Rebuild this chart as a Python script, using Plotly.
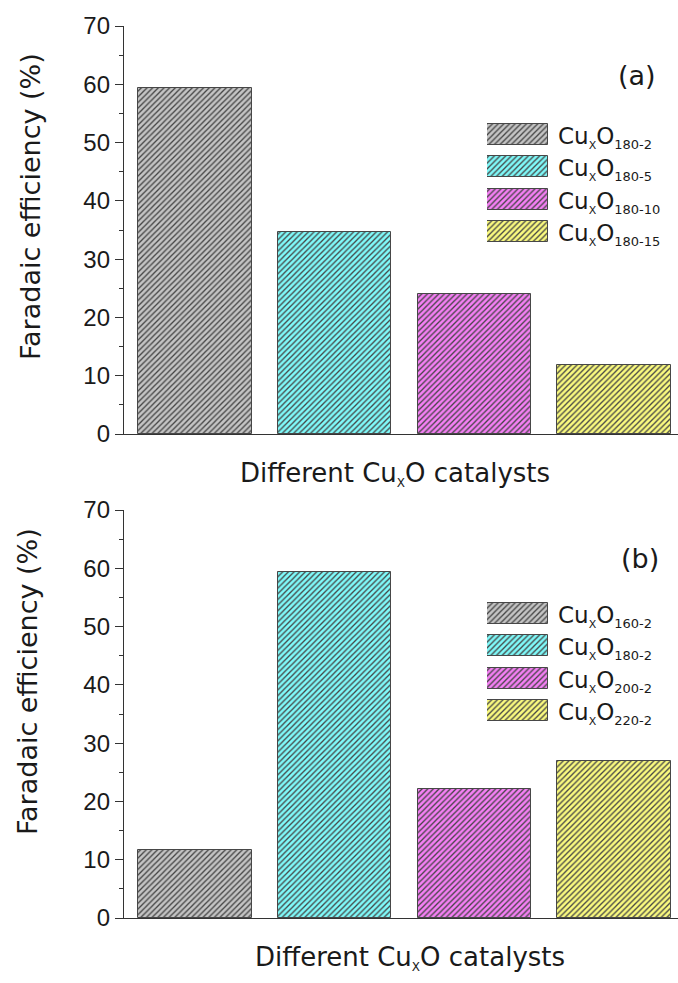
import plotly.graph_objects as go

# Faradaic efficiency (%) of the Cu_xO catalysts
codes_a = ["180-2", "180-5", "180-10", "180-15"]
fe_a = [59.4, 34.7, 24.0, 11.8]

codes_b = ["160-2", "180-2", "200-2", "220-2"]
fe_b = [11.7, 59.4, 22.1, 27.0]

bar_colors = ["#c4c4c4", "#7ffafa", "#f57ff5", "#fafa7f"]
y_ticks = [0, 10, 20, 30, 40, 50, 60, 70]

W, H = 678, 983
HATCH = "#2e2e2e"
EDGE = "#474747"
AXIS = "#333333"
TITLE_FONT = dict(family="DejaVu Sans", size=27, color="#1a1a1a")


def fx(p):
    return p / W


def fy(p):
    return 1 - p / H


def marker_style():
    return dict(
        color=bar_colors,
        line=dict(color=EDGE, width=1),
        pattern=dict(shape="/", fillmode="overlay", fgcolor=HATCH, fgopacity=1,
                     size=4, solidity=0.33),
    )


def legend_text(code):
    return ("Cu<sub><span style='font-size:11px'>X</span></sub>O"
            "<sub><span style='font-size:13px'>" + code + "</span></sub>")


fig = go.Figure()

# main bars
fig.add_trace(go.Bar(x=codes_a, y=fe_a, width=0.814, marker=marker_style(),
                     xaxis="x", yaxis="y", showlegend=False))
fig.add_trace(go.Bar(x=codes_b, y=fe_b, width=0.814, marker=marker_style(),
                     xaxis="x2", yaxis="y2", showlegend=False))

# legend swatches (one row per catalyst)
fig.add_trace(go.Bar(x=[1] * len(codes_a), y=codes_a, orientation="h", width=0.65,
                     marker=marker_style(), xaxis="x3", yaxis="y3", showlegend=False))
fig.add_trace(go.Bar(x=[1] * len(codes_b), y=codes_b, orientation="h", width=0.65,
                     marker=marker_style(), xaxis="x4", yaxis="y4", showlegend=False))

x_common = dict(range=[-0.504, 3.454], showticklabels=False, ticks="", showline=True,
                linecolor=AXIS, linewidth=1.3, showgrid=False, zeroline=False,
                fixedrange=True, automargin=False)
y_common = dict(range=[0, 70], tickvals=y_ticks, ticks="outside", ticklen=8, tickwidth=1.2,
                tickcolor=AXIS, showline=True, linecolor=AXIS, linewidth=1.3,
                showgrid=False, zeroline=False, fixedrange=True, automargin=False,
                tickfont=dict(family="Liberation Sans", size=24, color="#1a1a1a"),
                minor=dict(dtick=5, ticks="outside", ticklen=4, tickcolor=AXIS,
                           showgrid=False))
hidden = dict(visible=False, fixedrange=True, automargin=False)

fig.update_layout(
    width=W, height=H, autosize=False,
    margin=dict(l=0, r=0, t=0, b=0, pad=0, autoexpand=False),
    paper_bgcolor="white", plot_bgcolor="white",
    bargap=0,
    xaxis=dict(domain=[fx(124), 1], anchor="y", **x_common),
    yaxis=dict(domain=[fy(434), fy(26)], anchor="x", **y_common),
    xaxis2=dict(domain=[fx(124), 1], anchor="y2", **x_common),
    yaxis2=dict(domain=[fy(918), fy(510)], anchor="x2", **y_common),
    xaxis3=dict(domain=[fx(487), fx(548)], anchor="y3", range=[0, 1], **hidden),
    yaxis3=dict(domain=[fy(248), fy(118)], anchor="x3", range=[3.5, -0.5], **hidden),
    xaxis4=dict(domain=[fx(487), fx(548)], anchor="y4", range=[0, 1], **hidden),
    yaxis4=dict(domain=[fy(727), fy(597)], anchor="x4", range=[3.5, -0.5], **hidden),
)

ann = []
# y-axis titles
for xp, yp in [(31, 207), (27, 682)]:
    ann.append(dict(x=fx(xp), y=fy(yp), xref="paper", yref="paper", showarrow=False,
                    text="Faradaic efficiency (%)", textangle=-90, font=TITLE_FONT,
                    xanchor="center", yanchor="middle"))
# x-axis titles
for xp, yp in [(395, 474), (410, 958)]:
    ann.append(dict(x=fx(xp), y=fy(yp), xref="paper", yref="paper", showarrow=False,
                    text="Different Cu<sub><span style='font-size:12px'>X</span></sub>O catalysts",
                    font=dict(family="DejaVu Sans", size=26, color="#1a1a1a"),
                    xanchor="center", yanchor="middle"))
# panel labels
for lab, xp, yp in [("(a)", 637, 76), ("(b)", 640, 558)]:
    ann.append(dict(x=fx(xp), y=fy(yp), xref="paper", yref="paper", showarrow=False,
                    text=lab, font=dict(family="DejaVu Sans", size=27, color="#1a1a1a"),
                    xanchor="center", yanchor="middle"))
# legend labels
for codes, axy in [(codes_a, "y3"), (codes_b, "y4")]:
    for c in codes:
        ann.append(dict(x=fx(556), xref="paper", y=c, yref=axy, showarrow=False,
                        text=legend_text(c), xanchor="left", yanchor="middle", yshift=-3,
                        font=dict(family="DejaVu Sans", size=23, color="#1a1a1a")))
fig.update_layout(annotations=ann)

fig.write_html("out.html")
